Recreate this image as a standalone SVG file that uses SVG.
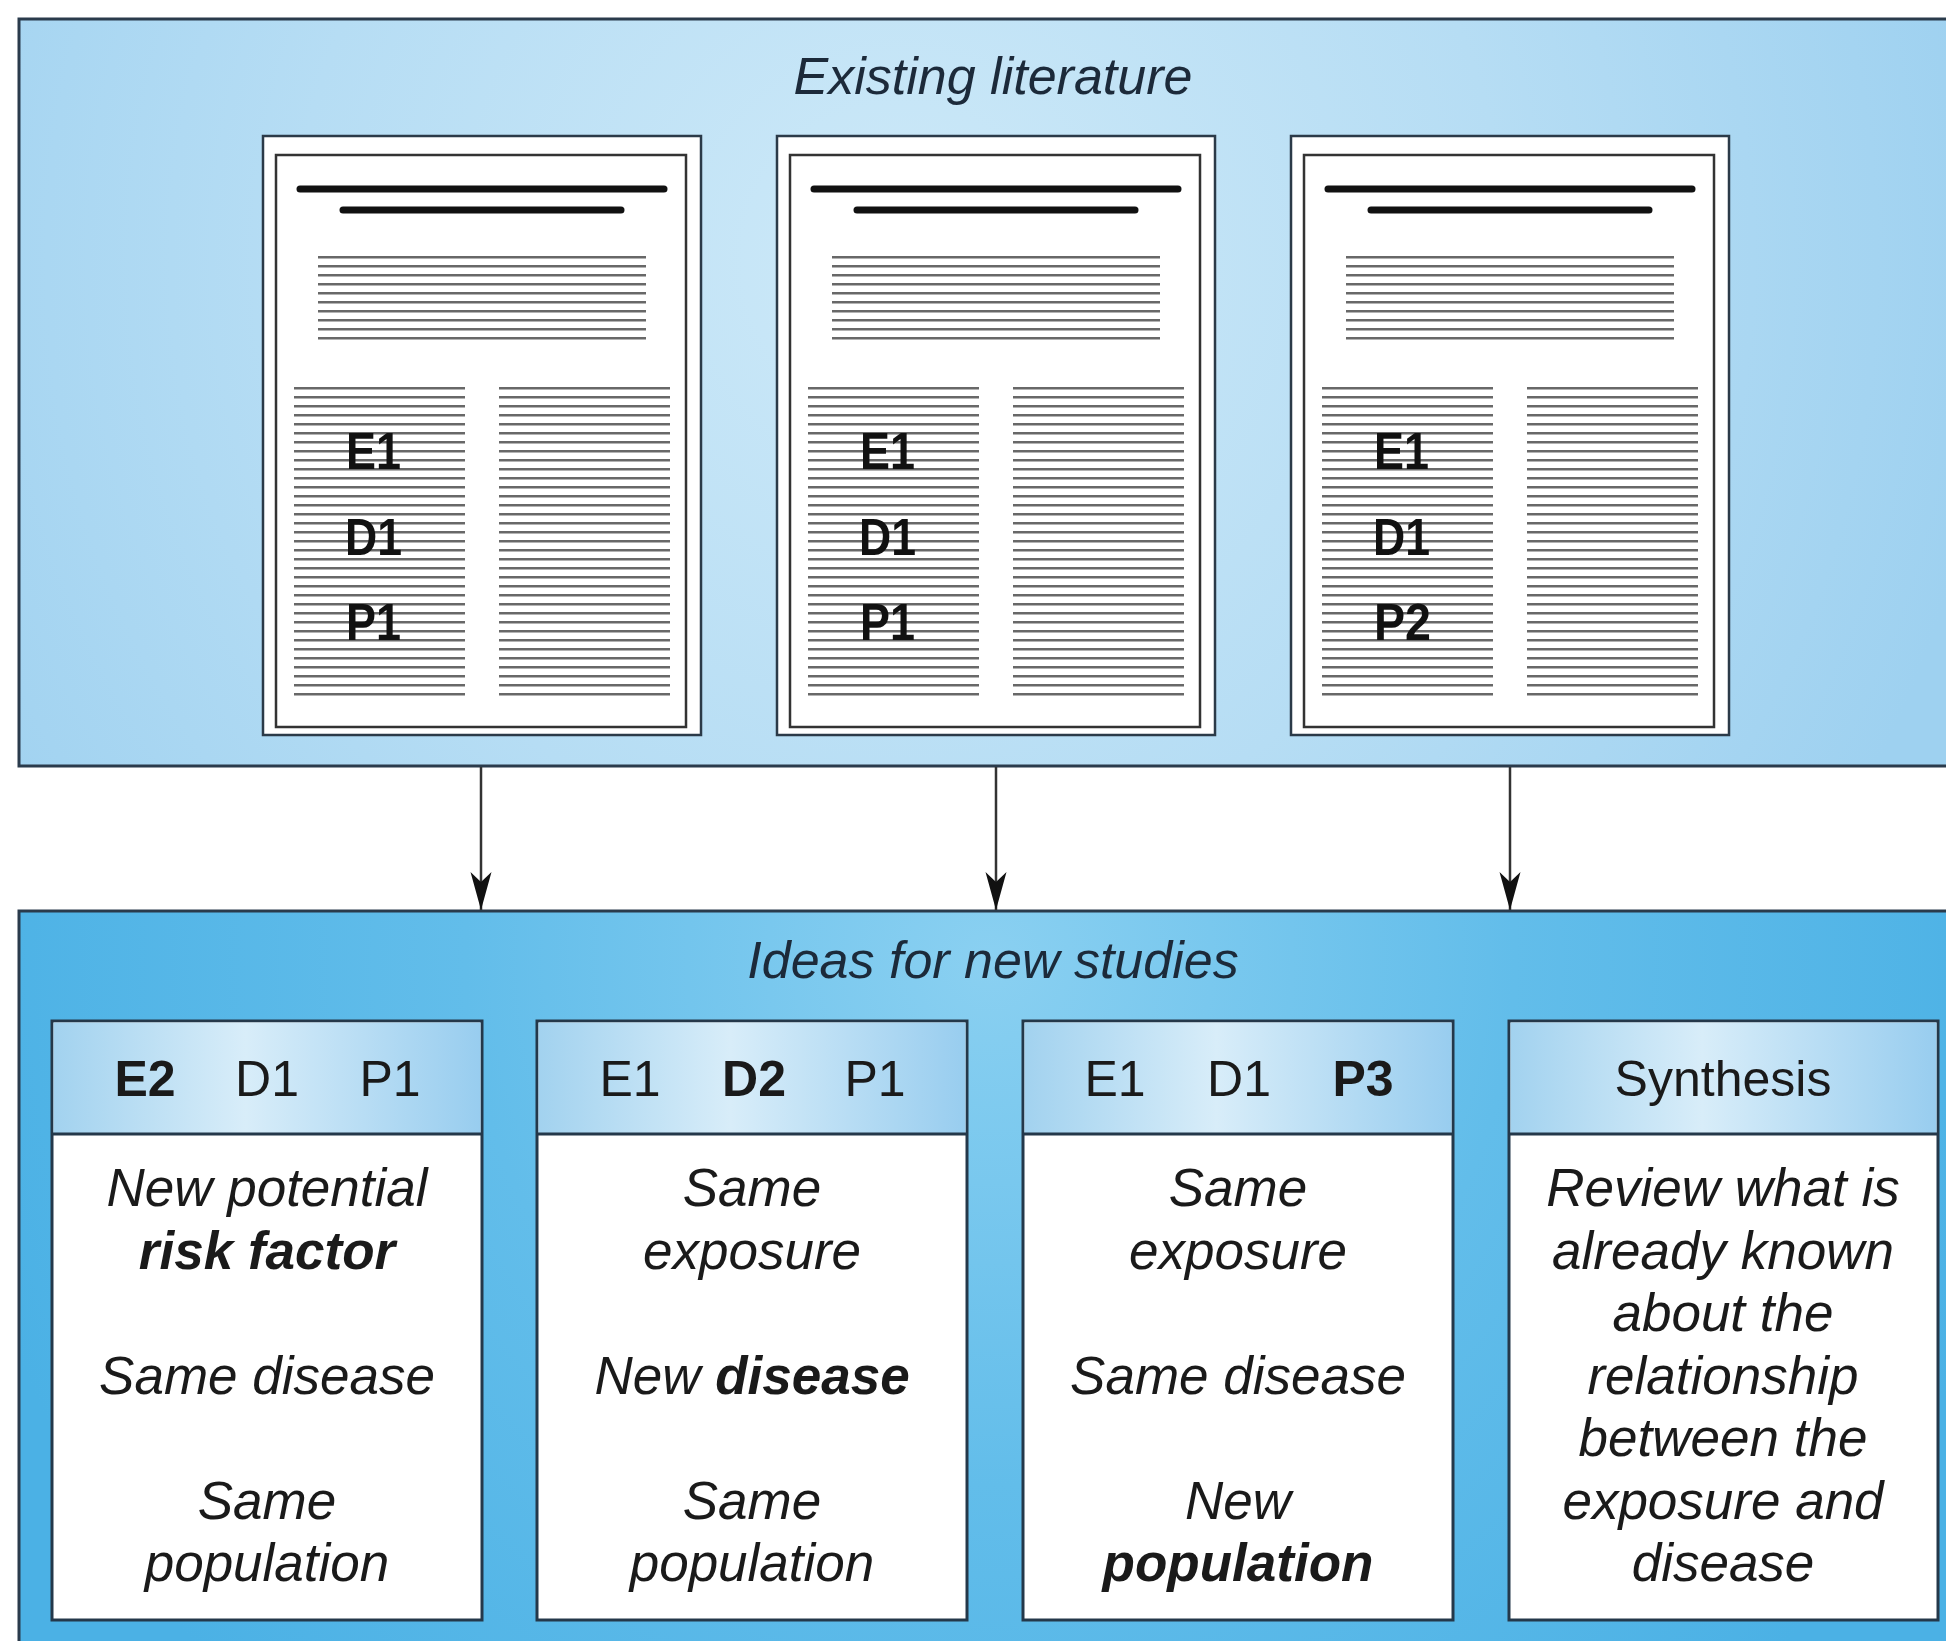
<svg xmlns="http://www.w3.org/2000/svg" xmlns:xlink="http://www.w3.org/1999/xlink" width="1946" height="1641" viewBox="0 0 1946 1641">
  <style>
    .panel { stroke: #2a3b4c; stroke-width: 3; }
    .heading { font: italic 52px "Liberation Sans", Arial, sans-serif; fill: #1c2a3a; text-anchor: middle; }
    .lab { font: bold 52px "Liberation Sans", Arial, sans-serif; fill: #111; }
    .hdr { font: 50px "Liberation Sans", Arial, sans-serif; fill: #1a1a1a; text-anchor: middle; }
    .body { font: italic 53px "Liberation Sans", Arial, sans-serif; fill: #1a1a1a; text-anchor: middle; }
    .b { font-weight: bold; }
    .box { fill: #ffffff; stroke: #24384a; stroke-width: 3; }
    .band { fill: url(#bandFill); }
    .sep { stroke: #24384a; stroke-width: 3; }
    .conn { stroke: #333; stroke-width: 2.5; fill: none; marker-end: url(#arrow); }
  </style>
  <defs>
    <radialGradient id="topFill" gradientUnits="userSpaceOnUse" cx="900" cy="260" r="1100">
      <stop offset="0" stop-color="#cde9f8"/>
      <stop offset="0.55" stop-color="#b6ddf4"/>
      <stop offset="1" stop-color="#9ed1f0"/>
    </radialGradient>
    <radialGradient id="botFill" gradientUnits="userSpaceOnUse" cx="990" cy="960" r="1050">
      <stop offset="0" stop-color="#8ad0f1"/>
      <stop offset="0.5" stop-color="#62bdea"/>
      <stop offset="1" stop-color="#4bb1e5"/>
    </radialGradient>
    <linearGradient id="bandFill" x1="0" y1="0" x2="1" y2="0">
      <stop offset="0" stop-color="#a2d2ef"/>
      <stop offset="0.45" stop-color="#d8edf9"/>
      <stop offset="1" stop-color="#98cdef"/>
    </linearGradient>
    <!-- ruled text lines used inside the paper pages -->
    <pattern id="ruleA" patternUnits="userSpaceOnUse" x="0" y="3" width="20" height="9">
      <rect x="0" y="0" width="20" height="2.5" fill="#686868"/>
    </pattern>
    <pattern id="ruleB" patternUnits="userSpaceOnUse" x="0" y="8" width="20" height="9">
      <rect x="0" y="0" width="20" height="2.5" fill="#686868"/>
    </pattern>
    <marker id="arrow" viewBox="-40 -12 42 24" markerWidth="42" markerHeight="24" refX="0" refY="0" orient="auto" markerUnits="userSpaceOnUse">
      <path d="M0,0 L-38,-10.5 L-28,0 L-38,10.5 Z" fill="#111"/>
    </marker>
    <!-- a journal page: outer sheet, inner frame, title bars, abstract and two columns -->
    <g id="paper">
      <rect x="0" y="0" width="438" height="599" fill="#fff" stroke="#2b3a48" stroke-width="2.5"/>
      <rect x="13" y="19" width="410" height="572" fill="#fff" stroke="#333" stroke-width="2.5"/>
      <line x1="37" y1="53" x2="401" y2="53" stroke="#111" stroke-width="7" stroke-linecap="round"/>
      <line x1="80" y1="74" x2="358" y2="74" stroke="#111" stroke-width="7" stroke-linecap="round"/>
      <rect x="55" y="119" width="328" height="86" fill="url(#ruleA)"/>
      <rect x="31" y="250" width="171" height="310" fill="url(#ruleB)"/>
      <rect x="236" y="250" width="171" height="310" fill="url(#ruleB)"/>
    </g>
  </defs>

  <!-- upper panel -->
  <g id="existing-literature">
    <rect class="panel" x="19" y="19" width="2000" height="747" fill="url(#topFill)"/>
    <text class="heading" x="993" y="94">Existing literature</text>
  </g>

  <g id="paper-1">
    <use xlink:href="#paper" x="263" y="136"/>
    <text class="lab" x="346" y="469" textLength="55" lengthAdjust="spacingAndGlyphs">E1</text>
    <text class="lab" x="345" y="555" textLength="57" lengthAdjust="spacingAndGlyphs">D1</text>
    <text class="lab" x="346" y="640" textLength="55" lengthAdjust="spacingAndGlyphs">P1</text>
  </g>
  <g id="paper-2">
    <use xlink:href="#paper" x="777" y="136"/>
    <text class="lab" x="860" y="469" textLength="55" lengthAdjust="spacingAndGlyphs">E1</text>
    <text class="lab" x="859" y="555" textLength="57" lengthAdjust="spacingAndGlyphs">D1</text>
    <text class="lab" x="860" y="640" textLength="55" lengthAdjust="spacingAndGlyphs">P1</text>
  </g>
  <g id="paper-3">
    <use xlink:href="#paper" x="1291" y="136"/>
    <text class="lab" x="1374" y="469" textLength="55" lengthAdjust="spacingAndGlyphs">E1</text>
    <text class="lab" x="1373" y="555" textLength="57" lengthAdjust="spacingAndGlyphs">D1</text>
    <text class="lab" x="1374" y="640" textLength="57" lengthAdjust="spacingAndGlyphs">P2</text>
  </g>

  <!-- lower panel -->
  <g id="new-studies">
    <rect class="panel" x="19" y="911" width="2000" height="800" fill="url(#botFill)"/>
    <text class="heading" x="993" y="978">Ideas for new studies</text>
  </g>

  <!-- connectors -->
  <g id="connectors">
    <line class="conn" x1="481" y1="767" x2="481" y2="910"/>
    <line class="conn" x1="996" y1="767" x2="996" y2="910"/>
    <line class="conn" x1="1510" y1="767" x2="1510" y2="910"/>
  </g>

  <g id="idea-exposure">
    <rect class="box" x="52" y="1021" width="430" height="599"/>
    <rect class="band" x="53.5" y="1022.5" width="427" height="111"/>
    <line class="sep" x1="52" y1="1134" x2="482" y2="1134"/>
    <text class="hdr" y="1096"><tspan class="b" x="145">E2</tspan><tspan x="267">D1</tspan><tspan x="390">P1</tspan></text>
    <text class="body" x="267" y="1206">New potential</text>
    <text class="body b" x="267" y="1268.5">risk factor</text>
    <text class="body" x="267" y="1393.5">Same disease</text>
    <text class="body" x="267" y="1518.5">Same</text>
    <text class="body" x="267" y="1581">population</text>
  </g>

  <g id="idea-disease">
    <rect class="box" x="537" y="1021" width="430" height="599"/>
    <rect class="band" x="538.5" y="1022.5" width="427" height="111"/>
    <line class="sep" x1="537" y1="1134" x2="967" y2="1134"/>
    <text class="hdr" y="1096"><tspan x="630">E1</tspan><tspan class="b" x="754">D2</tspan><tspan x="875">P1</tspan></text>
    <text class="body" x="752" y="1206">Same</text>
    <text class="body" x="752" y="1268.5">exposure</text>
    <text class="body" x="752" y="1393.5">New <tspan class="b">disease</tspan></text>
    <text class="body" x="752" y="1518.5">Same</text>
    <text class="body" x="752" y="1581">population</text>
  </g>

  <g id="idea-population">
    <rect class="box" x="1023" y="1021" width="430" height="599"/>
    <rect class="band" x="1024.5" y="1022.5" width="427" height="111"/>
    <line class="sep" x1="1023" y1="1134" x2="1453" y2="1134"/>
    <text class="hdr" y="1096"><tspan x="1115">E1</tspan><tspan x="1239">D1</tspan><tspan class="b" x="1363">P3</tspan></text>
    <text class="body" x="1238" y="1206">Same</text>
    <text class="body" x="1238" y="1268.5">exposure</text>
    <text class="body" x="1238" y="1393.5">Same disease</text>
    <text class="body" x="1238" y="1518.5">New</text>
    <text class="body b" x="1238" y="1581">population</text>
  </g>

  <g id="synthesis">
    <rect class="box" x="1509" y="1021" width="429" height="599"/>
    <rect class="band" x="1510.5" y="1022.5" width="426" height="111"/>
    <line class="sep" x1="1509" y1="1134" x2="1938" y2="1134"/>
    <text class="hdr" x="1723" y="1096">Synthesis</text>
    <text class="body" x="1723" y="1206">Review what is</text>
    <text class="body" x="1723" y="1268.5">already known</text>
    <text class="body" x="1723" y="1331">about the</text>
    <text class="body" x="1723" y="1393.5">relationship</text>
    <text class="body" x="1723" y="1456">between the</text>
    <text class="body" x="1723" y="1518.5">exposure and</text>
    <text class="body" x="1723" y="1581">disease</text>
  </g>
</svg>
